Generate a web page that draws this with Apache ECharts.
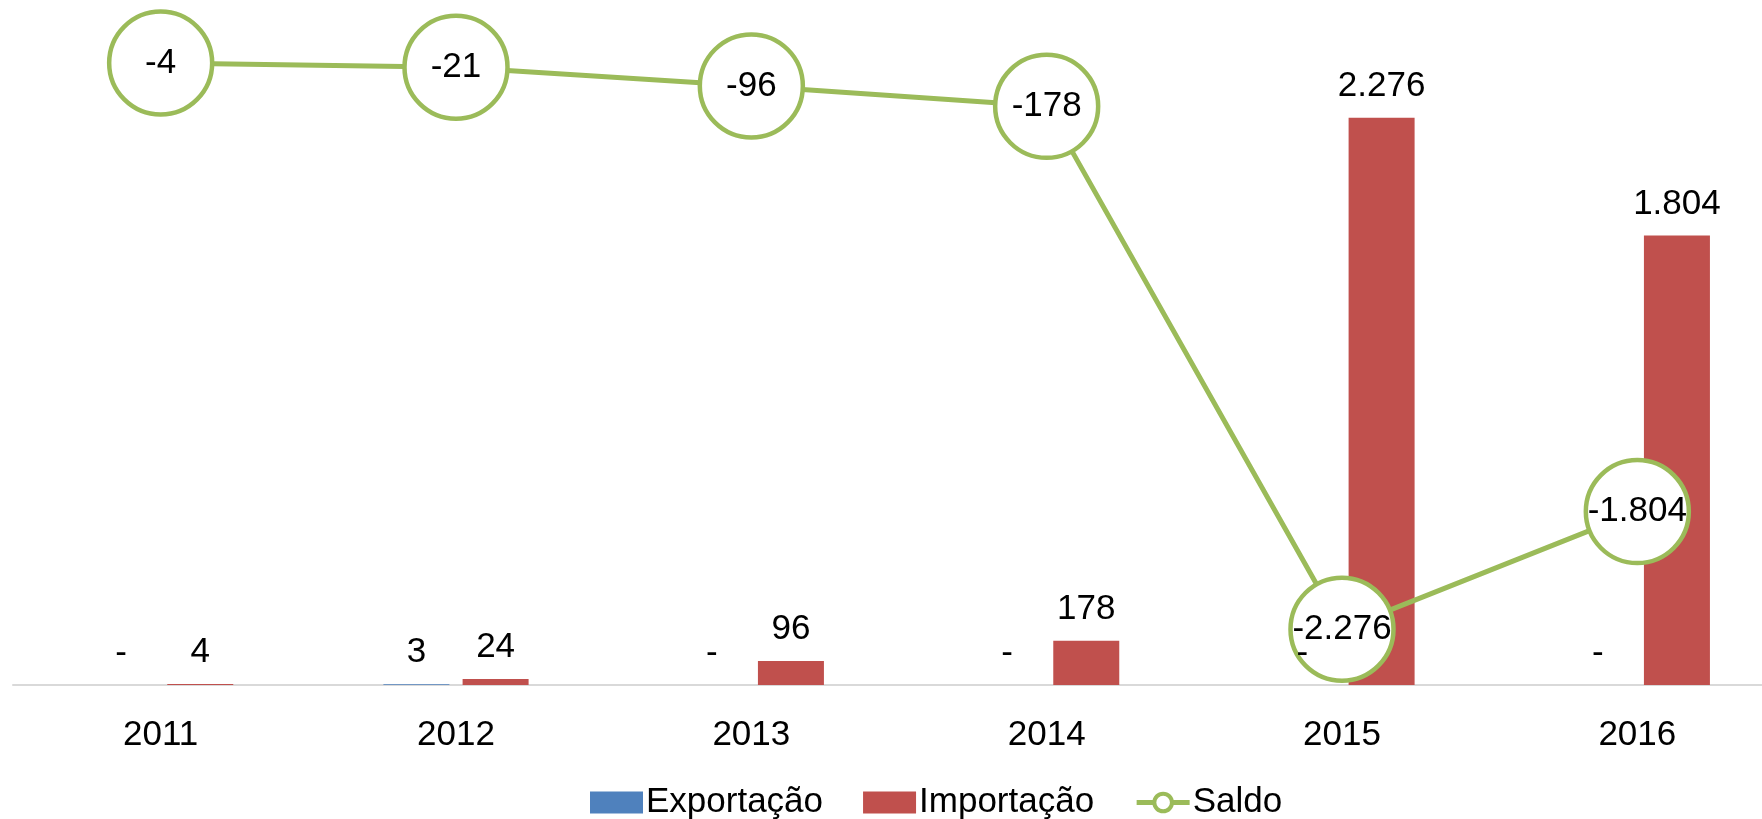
<!DOCTYPE html>
<html>
<head>
<meta charset="utf-8">
<script src="https://cdn.jsdelivr.net/npm/echarts@6/dist/echarts.min.js"></script>
<style>
  html, body { margin: 0; padding: 0; background: #fff; overflow: hidden; }
  #chart { width: 1762px; height: 819px; }
</style>
</head>
<body>
<div id="chart"></div>
<script>
// 年別の輸出入と収支
const years = ['2011', '2012', '2013', '2014', '2015', '2016'];
const exportacao = [0, 3, 0, 0, 0, 0];
const importacao = [4, 24, 96, 178, 2276, 1804];
const saldo = [-4, -21, -96, -178, -2276, -1804];

// 0 は "-"、千の位はドット区切り
function fmt(v) {
  if (v === 0) return '-';
  const s = String(Math.abs(v)).replace(/\B(?=(\d{3})+(?!\d))/g, '.');
  return (v < 0 ? '-' : '') + s;
}

const chart = echarts.init(document.getElementById('chart'));

const FS = 35;

const option = {
  animation: false,
  textStyle: { fontFamily: 'Liberation Sans', color: '#000' },
  grid: { left: 13, top: 62, width: 1772, height: 623, outerBoundsMode: 'none' },
  legend: {
    left: 585,
    top: 780,
    itemWidth: 53,
    itemHeight: 22,
    itemGap: 40,
    textStyle: { fontSize: FS, color: '#000', padding: [0, 0, 0, -2] },
    data: [
      { name: 'Exportação', icon: 'rect' },
      { name: 'Importação', icon: 'rect' },
      {
        name: 'Saldo',
        lineStyle: { width: 5, color: '#9BBB59' },
        itemStyle: { color: '#fff', borderColor: '#9BBB59', borderWidth: 4 }
      }
    ]
  },
  xAxis: {
    type: 'category',
    data: years,
    axisTick: { show: false },
    axisLine: { lineStyle: { color: '#D9D9D9', width: 2 } },
    axisLabel: { fontSize: FS, color: '#000', margin: 33 }
  },
  yAxis: [
    { type: 'value', min: 0, max: 2500, show: false, splitLine: { show: false } },
    { type: 'value', min: -2500, max: 0, show: false, splitLine: { show: false } }
  ],
  series: [
    {
      name: 'Exportação',
      type: 'bar',
      data: exportacao,
      z: 10,
      barWidth: 66,
      barGap: '20%',
      itemStyle: { color: '#4F81BD' },
      label: {
        show: true, position: 'top', distance: 14,
        fontSize: FS, color: '#000',
        formatter: p => fmt(p.value)
      }
    },
    {
      name: 'Importação',
      type: 'bar',
      data: importacao,
      barWidth: 66,
      barGap: '20%',
      itemStyle: { color: '#C0504D' },
      label: {
        show: true, position: 'top', distance: 14,
        fontSize: FS, color: '#000',
        formatter: p => fmt(p.value)
      }
    },
    {
      name: 'Saldo',
      type: 'line',
      yAxisIndex: 1,
      data: saldo,
      z: 5,
      symbol: 'circle',
      symbolSize: 103,
      lineStyle: { color: '#9BBB59', width: 5 },
      itemStyle: { color: '#fff', borderColor: '#9BBB59', borderWidth: 4.5 },
      label: {
        show: true, position: 'inside',
        fontSize: FS, color: '#000',
        formatter: p => fmt(p.value)
      }
    }
  ]
};

chart.setOption(option);
window.addEventListener('resize', () => { try { chart.resize(); } catch {} });
</script>
</body>
</html>
